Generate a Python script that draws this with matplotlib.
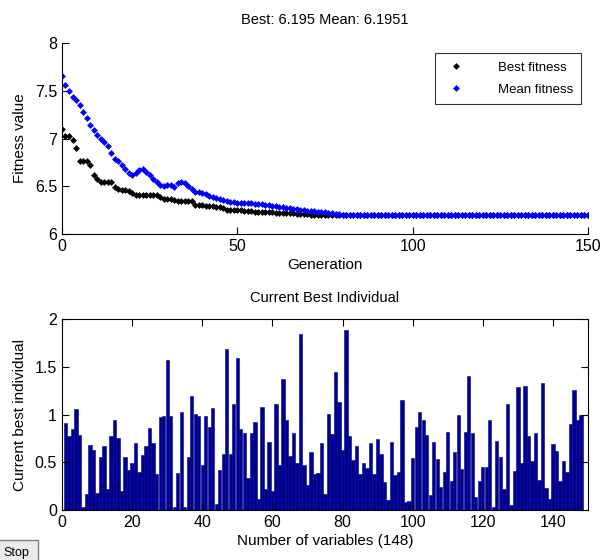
import matplotlib.pyplot as plt
from matplotlib.patches import Rectangle

plt.rcParams['font.family'] = ['Liberation Sans', 'DejaVu Sans']

# generations 0..150
best_fitness = [
    7.10, 7.03, 7.03, 6.98, 6.90, 6.77, 6.77, 6.77, 6.72, 6.62,
    6.58, 6.54, 6.54, 6.54, 6.54, 6.49, 6.47, 6.46, 6.46, 6.45,
    6.43, 6.41, 6.41, 6.41, 6.41, 6.41, 6.41, 6.41, 6.39, 6.37,
    6.37, 6.37, 6.36, 6.35, 6.35, 6.35, 6.35, 6.35, 6.30, 6.30,
    6.30, 6.29, 6.29, 6.29, 6.28, 6.28, 6.27, 6.25, 6.25, 6.25,
    6.25, 6.25, 6.24, 6.24, 6.24, 6.23, 6.23, 6.23, 6.23, 6.23,
    6.23, 6.22, 6.22, 6.22, 6.22, 6.22, 6.22, 6.21, 6.21, 6.21,
    6.21, 6.20, 6.20, 6.20, 6.20, 6.20, 6.20, 6.20, 6.20, 6.20,
    6.195, 6.195, 6.195, 6.195, 6.195, 6.195, 6.195, 6.195, 6.195, 6.195,
    6.195, 6.195, 6.195, 6.195, 6.195, 6.195, 6.195, 6.195, 6.195, 6.195,
    6.195, 6.195, 6.195, 6.195, 6.195, 6.195, 6.195, 6.195, 6.195, 6.195,
    6.195, 6.195, 6.195, 6.195, 6.195, 6.195, 6.195, 6.195, 6.195, 6.195,
    6.195, 6.195, 6.195, 6.195, 6.195, 6.195, 6.195, 6.195, 6.195, 6.195,
    6.195, 6.195, 6.195, 6.195, 6.195, 6.195, 6.195, 6.195, 6.195, 6.195,
    6.195, 6.195, 6.195, 6.195, 6.195, 6.195, 6.195, 6.195, 6.195, 6.195,
    6.195,
]
mean_fitness = [
    7.65, 7.56, 7.50, 7.44, 7.40, 7.35, 7.28, 7.22, 7.14, 7.09,
    7.04, 7.00, 6.96, 6.92, 6.85, 6.79, 6.76, 6.72, 6.68, 6.64,
    6.62, 6.64, 6.67, 6.68, 6.65, 6.62, 6.58, 6.54, 6.51, 6.50,
    6.51, 6.51, 6.49, 6.53, 6.55, 6.53, 6.50, 6.47, 6.44, 6.44,
    6.43, 6.42, 6.40, 6.39, 6.38, 6.37, 6.36, 6.35, 6.34, 6.34,
    6.33, 6.33, 6.32, 6.32, 6.32, 6.31, 6.31, 6.31, 6.30, 6.30,
    6.29, 6.29, 6.28, 6.28, 6.27, 6.27, 6.26, 6.26, 6.25, 6.25,
    6.24, 6.24, 6.24, 6.23, 6.23, 6.23, 6.22, 6.22, 6.21, 6.21,
    6.20, 6.20, 6.198, 6.196, 6.196, 6.196, 6.196, 6.196, 6.196, 6.196,
    6.1951, 6.1951, 6.1951, 6.1951, 6.1951, 6.1951, 6.1951, 6.1951, 6.1951, 6.1951,
    6.1951, 6.1951, 6.1951, 6.1951, 6.1951, 6.1951, 6.1951, 6.1951, 6.1951, 6.1951,
    6.1951, 6.1951, 6.1951, 6.1951, 6.1951, 6.1951, 6.1951, 6.1951, 6.1951, 6.1951,
    6.1951, 6.1951, 6.1951, 6.1951, 6.1951, 6.1951, 6.1951, 6.1951, 6.1951, 6.1951,
    6.1951, 6.1951, 6.1951, 6.1951, 6.1951, 6.1951, 6.1951, 6.1951, 6.1951, 6.1951,
    6.1951, 6.1951, 6.1951, 6.1951, 6.1951, 6.1951, 6.1951, 6.1951, 6.1951, 6.1951,
    6.1951,
]
generations = list(range(len(best_fitness)))

# current best individual, variables 1..148
best_individual = [
    0.91, 0.78, 0.85, 1.06, 0.79, 0.03, 0.17, 0.68, 0.63, 0.18,
    0.56, 0.67, 0.22, 0.77, 0.94, 0.75, 0.20, 0.56, 0.42, 0.49,
    0.70, 0.40, 0.58, 0.67, 0.86, 0.70, 0.38, 0.97, 0.98, 1.57,
    0.98, 0.03, 0.39, 1.03, 0.03, 0.55, 1.19, 1.01, 0.98, 0.47,
    0.98, 0.87, 1.07, 0.06, 0.42, 0.59, 1.69, 0.59, 1.11, 1.59,
    0.85, 0.81, 0.33, 0.81, 0.92, 0.11, 1.08, 0.22, 0.71, 0.20,
    1.11, 0.47, 1.37, 0.94, 0.57, 0.81, 0.49, 1.84, 0.47, 0.26,
    0.61, 0.38, 0.39, 0.70, 0.17, 1.01, 0.80, 1.45, 1.13, 0.63,
    1.89, 0.77, 0.52, 0.67, 0.38, 0.49, 0.44, 0.70, 0.38, 0.74,
    0.59, 0.29, 0.10, 0.71, 0.37, 0.40, 1.15, 0.08, 0.09, 0.54,
    0.87, 1.03, 0.94, 0.79, 0.16, 0.71, 0.53, 0.24, 0.40, 0.82,
    0.30, 0.61, 1.00, 0.43, 0.82, 1.40, 0.81, 0.14, 0.30, 0.45,
    0.45, 0.94, 0.03, 0.72, 0.55, 0.22, 1.11, 0.05, 0.41, 1.29,
    0.49, 1.30, 0.78, 0.51, 0.81, 0.31, 1.33, 0.23, 0.12, 0.69,
    0.62, 0.30, 0.51, 0.40, 0.90, 1.26, 0.94, 1.00,
]
variables = list(range(1, len(best_individual) + 1))

fig = plt.figure(figsize=(6.0, 5.6), dpi=100)

# top: fitness per generation
ax1 = fig.add_axes([0.1033, 0.5821, 0.8767, 0.341])
ax1.plot(generations, best_fitness, 'D', color='black', markersize=3.5,
         markeredgewidth=0, label='Best fitness')
ax1.plot(generations, mean_fitness, 'D', color='#0000ff', markersize=3.5,
         markeredgewidth=0, label='Mean fitness')
ax1.set_xlim(0, 150)
ax1.set_ylim(6, 8)
ax1.set_xticks([0, 50, 100, 150])
ax1.set_yticks([6, 6.5, 7, 7.5, 8])
ax1.set_yticklabels(['6', '6.5', '7', '7.5', '8'])
ax1.spines['top'].set_visible(False)
ax1.spines['right'].set_visible(False)
ax1.tick_params(direction='in', length=5, labelsize=11.5, width=0.8)
ax1.set_title('Best: 6.195 Mean: 6.1951', fontsize=10.5, pad=14)
ax1.set_xlabel('Generation', fontsize=11, labelpad=3)
ax1.set_ylabel('Fitness value', fontsize=11, labelpad=6)
leg = ax1.legend(loc='upper right', bbox_to_anchor=(1.0, 0.98), fontsize=9.5,
                 frameon=True, fancybox=False, edgecolor='black',
                 borderpad=0.6, handletextpad=2.2, labelspacing=0.75,
                 markerscale=1.0)
leg.get_frame().set_linewidth(0.8)

# bottom: current best individual
ax2 = fig.add_axes([0.1033, 0.0893, 0.8767, 0.341])
ax2.bar(variables, best_individual, width=0.95, color='#00008f',
        edgecolor='#00008f', linewidth=0.4)
ax2.set_xlim(0, 150)
ax2.set_ylim(0, 2)
ax2.set_xticks(range(0, 141, 20))
ax2.set_yticks([0, 0.5, 1, 1.5, 2])
ax2.set_yticklabels(['0', '0.5', '1', '1.5', '2'])
ax2.tick_params(direction='in', length=5, labelsize=11.5, width=0.8,
                top=True, right=True)
ax2.set_title('Current Best Individual', fontsize=10.5, pad=12)
ax2.set_xlabel('Number of variables (148)', fontsize=11, labelpad=3)
ax2.set_ylabel('Current best individual', fontsize=11, labelpad=6)

for ax in (ax1, ax2):
    for s in ax.spines.values():
        s.set_linewidth(0.8)

# Stop button of the GA window
fig.patches.append(Rectangle((-0.01, -0.01), 0.073, 0.046, transform=fig.transFigure,
                             facecolor='#ececec', edgecolor='#808080', linewidth=1))
fig.text(0.028, 0.012, 'Stop', fontsize=9, ha='center', va='center')

fig.savefig('out.png', dpi=100)
